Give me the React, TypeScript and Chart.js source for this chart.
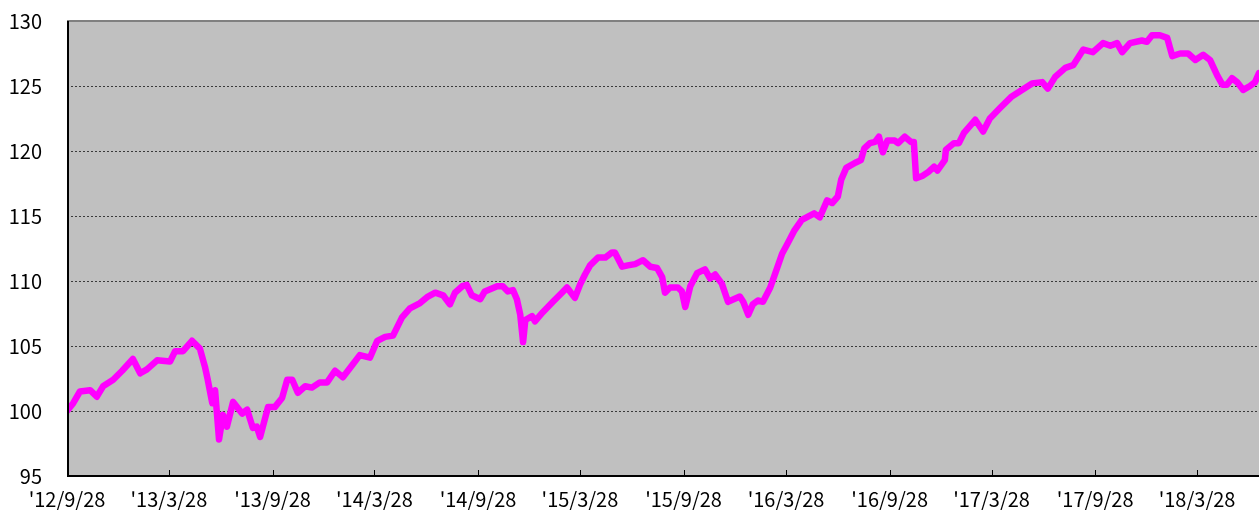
import React, { useEffect, useRef } from 'react';
import { Chart, registerables } from 'chart.js';

Chart.register(...registerables);

// x tick labels (yy/m/d), every 6 months from the start date
const tickLabels = [
  "'12/9/28", "'13/3/28", "'13/9/28", "'14/3/28", "'14/9/28", "'15/3/28",
  "'15/9/28", "'16/3/28", "'16/9/28", "'17/3/28", "'17/9/28", "'18/3/28",
];

// day offsets from 2012-09-28 of each sampled point
const dayOffsets = [
  0, 11, 23, 41, 53, 64, 82, 98, 117, 130, 142, 160, 183, 192, 206, 222, 236, 245, 250, 258,
  263, 270, 277, 284, 295, 311, 320, 330, 337, 343, 357, 369, 382, 391, 400, 410, 423, 435, 449, 462,
  476, 490, 506, 520, 538, 551, 565, 579, 595, 609, 627, 641, 654, 668, 680, 689, 702, 710, 719, 734,
  742, 764, 774, 783, 792, 799, 805, 810, 814, 826, 831, 845, 863, 879, 888, 902, 911, 920, 929, 943,
  956, 968, 973, 986, 996, 1009, 1023, 1036, 1048, 1057, 1062, 1071, 1085, 1092, 1098, 1107, 1119, 1133, 1142, 1151,
  1163, 1174, 1195, 1201, 1210, 1218, 1227, 1236, 1249, 1258, 1270, 1280, 1292, 1305, 1327, 1337, 1350, 1359, 1369, 1375,
  1384, 1400, 1410, 1416, 1426, 1435, 1442, 1449, 1457, 1470, 1476, 1488, 1499, 1504, 1508, 1520, 1530, 1540, 1546, 1559,
  1561, 1575, 1584, 1593, 1613, 1627, 1639, 1657, 1678, 1696, 1714, 1732, 1742, 1755, 1773, 1787, 1805, 1822, 1840, 1853,
  1865, 1874, 1888, 1909, 1918, 1927, 1941, 1954, 1963, 1977, 1991, 2004, 2018, 2030, 2043, 2052, 2060, 2069, 2078, 2089,
  2101, 2110, 2117,
];

// index values at those days
const values = [
  100.0, 100.6, 101.5, 101.6, 101.1, 101.9, 102.4, 103.1, 104.0, 102.9, 103.2, 103.9, 103.8, 104.6, 104.6, 105.4, 104.8, 103.4, 102.4, 100.6,
  101.6, 97.8, 99.7, 98.8, 100.7, 99.8, 100.1, 98.7, 98.8, 98.0, 100.3, 100.3, 101.0, 102.4, 102.4, 101.4, 101.9, 101.8, 102.2, 102.2,
  103.1, 102.6, 103.5, 104.3, 104.1, 105.4, 105.7, 105.8, 107.2, 107.9, 108.3, 108.8, 109.1, 108.9, 108.2, 109.1, 109.6, 109.7, 108.9, 108.6,
  109.2, 109.6, 109.6, 109.2, 109.3, 108.6, 107.4, 105.3, 107.0, 107.3, 106.9, 107.6, 108.4, 109.1, 109.5, 108.7, 109.7, 110.5, 111.2, 111.8,
  111.8, 112.2, 112.2, 111.1, 111.2, 111.3, 111.6, 111.1, 111.0, 110.3, 109.1, 109.5, 109.5, 109.2, 108.0, 109.6, 110.6, 110.9, 110.2, 110.5,
  109.8, 108.4, 108.8, 108.4, 107.4, 108.2, 108.5, 108.4, 109.5, 110.6, 112.1, 112.9, 113.9, 114.7, 115.2, 114.9, 116.2, 116.0, 116.5, 117.8,
  118.7, 119.1, 119.3, 120.2, 120.6, 120.7, 121.1, 119.9, 120.8, 120.8, 120.6, 121.1, 120.7, 120.7, 117.9, 118.1, 118.4, 118.8, 118.5, 119.3,
  120.1, 120.6, 120.6, 121.4, 122.4, 121.5, 122.5, 123.3, 124.2, 124.7, 125.2, 125.3, 124.8, 125.7, 126.4, 126.6, 127.8, 127.6, 128.3, 128.1,
  128.3, 127.6, 128.3, 128.5, 128.4, 128.9, 128.9, 128.7, 127.3, 127.5, 127.5, 127.0, 127.4, 127.0, 125.8, 125.1, 125.1, 125.6, 125.3, 124.7,
  125.0, 125.3, 126.0,
];

const yMin = 95;
const yMax = 130;
const yStep = 5;
const xMaxDay = 2117;

function labelToDay(label: string): number {
  const [yy, m, d] = label.slice(1).split('/').map(Number);
  return (Date.UTC(2000 + yy, m - 1, d) - Date.UTC(2012, 8, 28)) / 86400000;
}

const tickDays = tickLabels.map(labelToDay);

const framePlugin = {
  id: 'framePlugin',
  beforeDatasetsDraw(chart: any) {
    const { ctx, chartArea: a, scales } = chart;
    const y = scales.y;
    ctx.save();
    ctx.fillStyle = '#C0C0C0';
    ctx.fillRect(a.left, a.top, a.right - a.left, a.bottom - a.top);
    ctx.strokeStyle = '#3a3a3a';
    ctx.lineWidth = 1;
    ctx.setLineDash([2, 2]);
    y.ticks.forEach((t: any) => {
      if (t.value > yMin && t.value < yMax) {
        const py = Math.round(y.getPixelForValue(t.value)) + 0.5;
        ctx.beginPath();
        ctx.moveTo(a.left, py);
        ctx.lineTo(a.right, py);
        ctx.stroke();
      }
    });
    ctx.setLineDash([]);
    ctx.strokeStyle = '#808080';
    ctx.lineWidth = 2;
    ctx.beginPath();
    ctx.moveTo(a.left, a.top);
    ctx.lineTo(a.right, a.top);
    ctx.stroke();
    ctx.restore();
  },
  afterDatasetsDraw(chart: any) {
    const { ctx, chartArea: a, scales } = chart;
    const x = scales.x;
    ctx.save();
    ctx.strokeStyle = '#000000';
    ctx.lineWidth = 2;
    ctx.beginPath();
    ctx.moveTo(a.left + 1, a.top);
    ctx.lineTo(a.left + 1, a.bottom);
    ctx.moveTo(a.left, a.bottom);
    ctx.lineTo(a.right, a.bottom);
    ctx.stroke();
    ctx.lineWidth = 1;
    x.ticks.forEach((t: any) => {
      const px = Math.round(x.getPixelForValue(t.value)) + 0.5;
      ctx.beginPath();
      ctx.moveTo(px, a.bottom);
      ctx.lineTo(px, a.bottom - 6);
      ctx.stroke();
    });
    ctx.restore();
  },
};

export default function App() {
  const canvasRef = useRef<HTMLCanvasElement | null>(null);

  useEffect(() => {
    if (!canvasRef.current) return;
    const points = dayOffsets.map((d, i) => ({ x: d, y: values[i] }));
    const font = { family: "'Noto Sans CJK JP', 'Noto Sans', sans-serif", size: 20 };
    const chart = new Chart(canvasRef.current, {
      type: 'line',
      data: {
        datasets: [
          {
            data: points,
            borderColor: '#FF00FF',
            borderWidth: 6.5,
            pointRadius: 0,
            tension: 0,
            borderJoinStyle: 'round',
            borderCapStyle: 'round',
          },
        ],
      },
      options: {
        animation: false,
        responsive: true,
        maintainAspectRatio: false,
        layout: { padding: { top: 21, right: 0, left: 0, bottom: 0 } },
        plugins: { legend: { display: false }, tooltip: { enabled: false } },
        scales: {
          x: {
            type: 'linear',
            min: 0,
            max: xMaxDay,
            grid: { display: false, drawTicks: false },
            border: { display: false },
            afterBuildTicks: (scale: any) => {
              scale.ticks = tickDays.map((v) => ({ value: v }));
            },
            afterFit: (scale: any) => {
              scale.height = 34;
              scale.paddingLeft = 0;
              scale.paddingRight = 0;
              scale.paddingTop = 0;
              scale.paddingBottom = 0;
            },
            ticks: {
              autoSkip: false,
              maxRotation: 0,
              minRotation: 0,
              padding: 11,
              color: '#000000',
              font,
              callback: (_v: any, i: number) => tickLabels[i],
            },
          },
          y: {
            min: yMin,
            max: yMax,
            grid: { display: false, drawTicks: false },
            border: { display: false },
            afterFit: (scale: any) => {
              scale.width = 67;
              scale.paddingLeft = 0;
              scale.paddingRight = 0;
              scale.paddingTop = 0;
              scale.paddingBottom = 0;
            },
            ticks: {
              stepSize: yStep,
              padding: 25,
              color: '#000000',
              font,
            },
          },
        },
      },
      plugins: [framePlugin],
    });
    return () => chart.destroy();
  }, []);

  return (
    <div style={{ position: 'absolute', left: 0, top: 0, width: 1259, height: 510 }}>
      <canvas ref={canvasRef} />
    </div>
  );
}
